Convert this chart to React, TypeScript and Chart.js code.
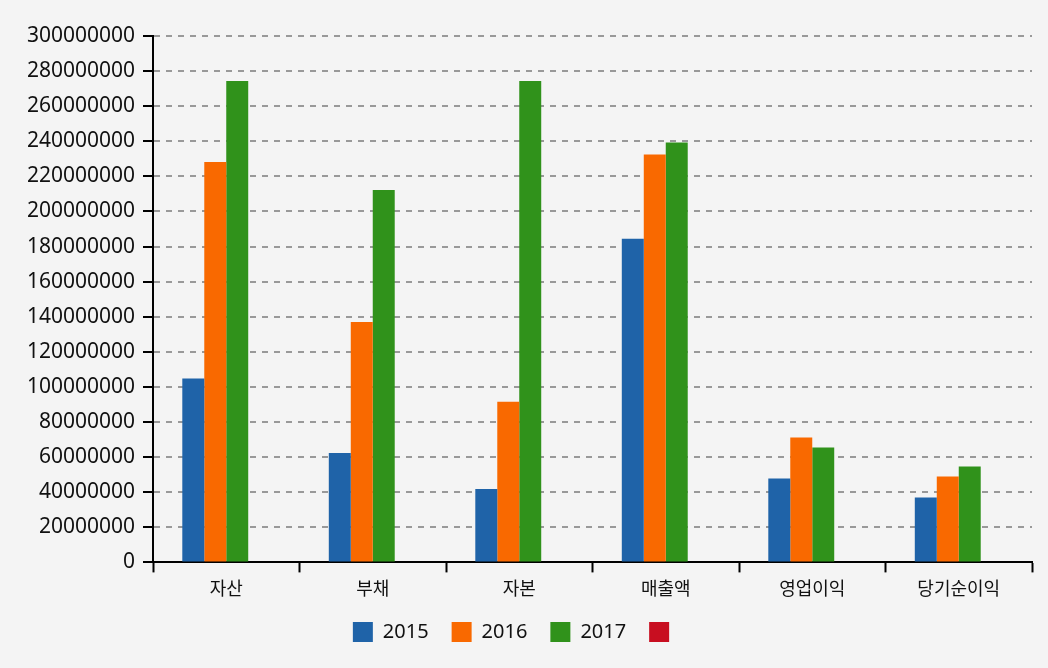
import { useEffect, useRef } from "react";
import { Chart } from "chart.js/auto";
import type { Plugin } from "chart.js";

const categories = ["자산", "부채", "자본", "매출액", "영업이익", "당기순이익"];
const years = ["2015", "2016", "2017", ""];
const values2015 = [104800000, 62300000, 41800000, 184400000, 47800000, 37000000];
const values2016 = [228200000, 137000000, 91500000, 232400000, 71200000, 49000000];
const values2017 = [274300000, 212200000, 274300000, 239300000, 65500000, 54700000];
const values2018: number[] = [];
const colors = ["#1f63a8", "#f96900", "#30921b", "#c80e20"];

const FONT = "'Noto Sans', 'Noto Sans CJK KR', sans-serif";

// let the category labels hang a little below the x scale box without being clipped
const labelRoom: Plugin<"bar"> = {
    id: "labelRoom",
    afterLayout(chart) {
        const x = chart.scales.x;
        if (x) x.bottom += 12;
    },
};

export default function App() {
    const canvasRef = useRef<HTMLCanvasElement | null>(null);
    const chartRef = useRef<Chart | null>(null);

    useEffect(() => {
        document.body.style.margin = "0";
        document.body.style.background = "#f4f4f4";
        if (!canvasRef.current) return;

        const series = [values2015, values2016, values2017, values2018];

        chartRef.current = new Chart(canvasRef.current, {
            type: "bar",
            data: {
                labels: categories,
                datasets: series.map((vals, i) => ({
                    label: years[i],
                    data: vals,
                    backgroundColor: colors[i],
                    borderWidth: 0,
                    categoryPercentage: 0.6,
                    barPercentage: 1.0,
                })),
            },
            plugins: [labelRoom],
            options: {
                responsive: true,
                maintainAspectRatio: false,
                animation: false,
                layout: { padding: { top: 36, right: 16, left: 0, bottom: 16 } },
                plugins: {
                    tooltip: { enabled: false },
                    legend: {
                        position: "bottom",
                        labels: {
                            boxWidth: 20,
                            boxHeight: 20,
                            padding: 23,
                            color: "#111",
                            font: { family: FONT, size: 20 },
                        },
                    },
                },
                scales: {
                    x: {
                        afterFit: (scale) => {
                            scale.height = scale.height - 5;
                        },
                        grid: {
                            drawOnChartArea: false,
                            drawTicks: true,
                            tickLength: 10,
                            tickColor: "#000",
                            tickWidth: 2,
                            offset: true,
                        },
                        border: { color: "#000", width: 2 },
                        ticks: {
                            color: "#111",
                            padding: 5,
                            font: { family: "'Noto Sans CJK KR', sans-serif", size: 18 },
                        },
                    },
                    y: {
                        min: 0,
                        max: 300000000,
                        afterFit: (scale) => {
                            scale.width = 153;
                        },
                        grid: {
                            color: "#999",
                            lineWidth: 2,
                            tickColor: "#000",
                            tickWidth: 2,
                            tickLength: 10,
                            tickBorderDash: [],
                        },
                        border: { color: "#000", width: 2, dash: [6, 6] },
                        ticks: {
                            stepSize: 20000000,
                            color: "#111",
                            padding: 8,
                            font: { family: FONT, size: 21 },
                            callback: (v) => String(v),
                        },
                    },
                },
            },
        });

        return () => {
            chartRef.current?.destroy();
            chartRef.current = null;
        };
    }, []);

    return (
        <div style={{ width: 1048, height: 668, position: "relative", background: "#f4f4f4" }}>
            <canvas ref={canvasRef} />
        </div>
    );
}
